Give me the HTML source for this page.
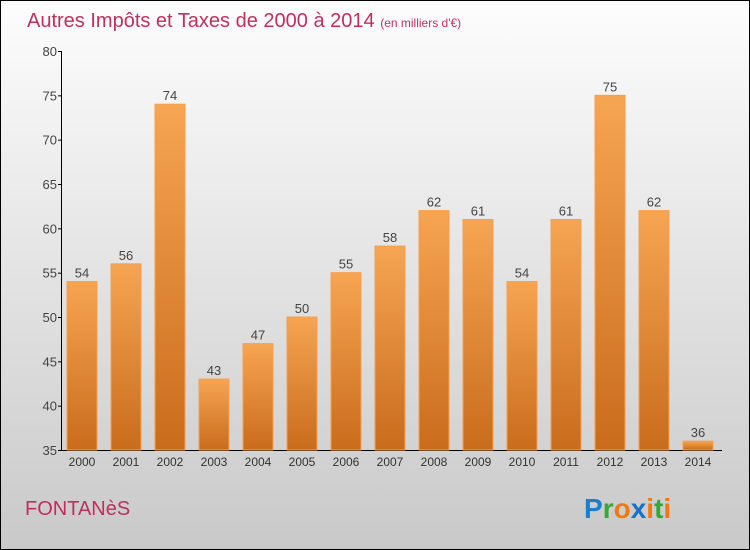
<!DOCTYPE html>
<html><head><meta charset="utf-8"><style>
html,body{margin:0;padding:0;}
svg{display:block;font-family:"Liberation Sans",sans-serif;}
</style></head><body>
<svg width="750" height="550" viewBox="0 0 750 550" xmlns="http://www.w3.org/2000/svg">
<defs>
<linearGradient id="bg" x1="0" y1="0" x2="0" y2="1"><stop offset="0" stop-color="#fdfdfd"/><stop offset="1" stop-color="#c9c9c9"/></linearGradient>
<linearGradient id="bar" x1="0" y1="0" x2="0" y2="1"><stop offset="0" stop-color="#f6a552"/><stop offset="1" stop-color="#c96c1c"/></linearGradient>
</defs>
<rect x="0.5" y="0.5" width="749" height="549" fill="url(#bg)" stroke="#000"/>
<text x="27" y="27" font-size="20" fill="#c0305e">Autres Impôts et Taxes de 2000 à 2014 <tspan font-size="12">  (en milliers d'€)</tspan></text>
<g id="plot"></g>
<text x="25" y="515" font-size="20" fill="#c0305e">FONTANèS</text>
<g font-size="28" font-weight="bold" font-family="'Liberation Sans',sans-serif">
<text x="584" y="518"><tspan fill="#1a7fd0">P</tspan><tspan fill="#3aa53a">r</tspan><tspan fill="#f07a10">o</tspan><tspan fill="#1a6fc8">x</tspan><tspan fill="#f07a10">i</tspan><tspan fill="#3aa53a">t</tspan><tspan fill="#f07a10">i</tspan></text>
</g>
</svg>
<script>
const years=["2000","2001","2002","2003","2004","2005","2006","2007","2008","2009","2010","2011","2012","2013","2014"];
const values=[54,56,74,43,47,50,55,58,62,61,54,61,75,62,36];
const yTicks=[35,40,45,50,55,60,65,70,75,80];
const NS="http://www.w3.org/2000/svg";
const g=document.getElementById('plot');
const y=v=>450-(v-35)*(399/45);
const x=i=>82+i*44;
function mk(t,a){const e=document.createElementNS(NS,t);for(const k in a)e.setAttribute(k,a[k]);g.appendChild(e);return e;}
let e=mk('line',{x1:61.5,y1:51,x2:61.5,y2:450,stroke:'#000'});


e=mk('line',{x1:61,y1:450.5,x2:722,y2:450.5,stroke:'#000'});


yTicks.forEach(v=>{
 let t=mk('line',{x1:58,x2:62,y1:y(v)+0.5,y2:y(v)+0.5,stroke:'#000'});
 
 
 let l=mk('text',{x:57,y:y(v)+5,'text-anchor':'end','font-size':13,fill:'#444'});l.textContent=v;
 
 
});
values.forEach((v,i)=>{
 let b=mk('rect',{x:x(i)-15,y:y(v),width:30,height:450-y(v),fill:'url(#bar)',stroke:'#f5a050','stroke-width':1});
 
 
 let l=mk('text',{x:x(i),y:y(v)-4,'text-anchor':'middle','font-size':13,fill:'#444'});l.textContent=v;
 
 
 let c=mk('text',{x:x(i),y:466,'text-anchor':'middle','font-size':12,fill:'#333'});c.textContent=years[i];
 
 
});
</script>
</body></html>
